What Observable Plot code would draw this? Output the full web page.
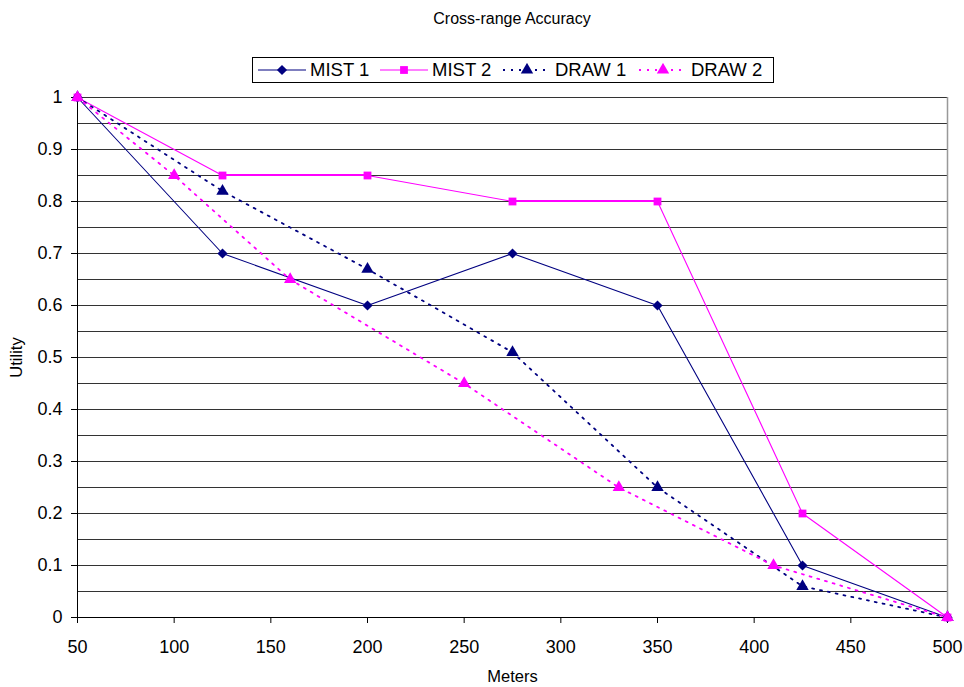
<!DOCTYPE html>
<html>
<head>
<meta charset="utf-8">
<script src="https://cdn.jsdelivr.net/npm/d3@7"></script>
<script src="https://cdn.jsdelivr.net/npm/@observablehq/plot@0.6"></script>
<style>
  html, body { margin: 0; padding: 0; background: #fff; }
  #wrap { position: relative; width: 964px; height: 687px; font-family: "Liberation Sans", Arial, sans-serif; }
  #chart { position: absolute; left: 0; top: 0; }
  #title { position: absolute; left: 0; width: 1024px; top: 10px; text-align: center; font-size: 16px; color: #000; }
  #legend { position: absolute; left: 252px; top: 57px; width: 522px; height: 26px; border: 1px solid #000; box-sizing: border-box;
            font-size: 18.5px; color: #000; background: #fff; }
  .item { position: absolute; top: 0; height: 24px; display: flex; align-items: center; }
  .item svg { margin-right: 4px; }
</style>
</head>
<body>
<div id="wrap">
  <div id="chart"></div>
  <div id="title">Cross-range Accuracy</div>
  <div id="legend"></div>
</div>
<script>
const seriesNames = ["MIST 1", "MIST 2", "DRAW 1", "DRAW 2"];
const mist1X = [50, 125, 200, 275, 350, 425, 500];
const mist1Y = [1, 0.7, 0.6, 0.7, 0.6, 0.1, 0];
const mist2X = [50, 125, 200, 275, 350, 425, 500];
const mist2Y = [1, 0.85, 0.85, 0.8, 0.8, 0.2, 0];
const draw1X = [50, 125, 200, 275, 350, 425, 500];
const draw1Y = [1, 0.82, 0.67, 0.51, 0.25, 0.06, 0];
const draw2X = [50, 100, 160, 250, 330, 410, 500];
const draw2Y = [1, 0.85, 0.65, 0.45, 0.25, 0.1, 0];
const xTicks = [50, 100, 150, 200, 250, 300, 350, 400, 450, 500];
const yTicks = [0, 0.1, 0.2, 0.3, 0.4, 0.5, 0.6, 0.7, 0.8, 0.9, 1];
const gridY = d3.range(1, 21).map(i => i / 20);

const styles = {
  "MIST 1": {color: "#000080", symbol: "diamond2", dash: null, r: 4.6},
  "MIST 2": {color: "#FF00FF", symbol: "square", dash: null, r: 4.4},
  "DRAW 1": {color: "#000080", symbol: "triangle", dash: "2,6", r: 4.6},
  "DRAW 2": {color: "#FF00FF", symbol: "triangle", dash: "2,6", r: 4.6}
};
const toRows = (name, xs, ys) => xs.map((x, i) => ({series: name, x, y: ys[i]}));
const data = {
  "MIST 1": toRows("MIST 1", mist1X, mist1Y),
  "MIST 2": toRows("MIST 2", mist2X, mist2Y),
  "DRAW 1": toRows("DRAW 1", draw1X, draw1Y),
  "DRAW 2": toRows("DRAW 2", draw2X, draw2Y)
};
// flat (horizontal) stretches of a series, which sit on a grid line
const flatSegs = name => data[name].slice(1)
  .map((d, i) => ({x1: data[name][i].x, x2: d.x, y: d.y, y0: data[name][i].y}))
  .filter(d => d.y === d.y0);

const marks = [
  Plot.ruleY(gridY, {stroke: "#333", strokeWidth: 1}),
  Plot.ruleX([500], {stroke: "#999", strokeWidth: 1.5}),
  Plot.ruleY([0], {stroke: "#000"}),
  Plot.ruleX([50], {stroke: "#000"}),
  Plot.axisX({ticks: xTicks, tickSize: 6, tickPadding: 17, fontSize: 18, label: "Meters", labelAnchor: "center", labelOffset: 64, labelArrow: "none"}),
  Plot.axisY({ticks: yTicks, tickSize: 6, tickPadding: 9, fontSize: 18, tickFormat: d => String(d), label: "Utility", labelAnchor: "center", labelOffset: 67, labelArrow: "none"})
];
for (const name of seriesNames) {
  const s = styles[name];
  const opts = {x: "x", y: "y", stroke: s.color, strokeWidth: s.dash ? 1.8 : 1.1};
  if (s.dash) opts.strokeDasharray = s.dash;
  marks.push(Plot.line(data[name], opts));
  const flat = flatSegs(name);
  if (flat.length) {
    marks.push(Plot.ruleY(flat, {x1: "x1", x2: "x2", y: "y", dy: -1, stroke: s.color, strokeWidth: 1.1}));
  }
}
for (const name of seriesNames) {
  const s = styles[name];
  marks.push(Plot.dot(data[name], {x: "x", y: "y", fill: s.color, stroke: "none", symbol: s.symbol, r: s.r}));
}

const chart = Plot.plot({
  width: 964,
  height: 687,
  marginTop: 97,
  marginBottom: 70,
  marginLeft: 77,
  marginRight: 17,
  x: {domain: [50, 500]},
  y: {domain: [0, 1]},
  style: {fontFamily: "'Liberation Sans', Arial, sans-serif", fontSize: "16px", color: "#000", background: "transparent"},
  marks
});
document.getElementById("chart").appendChild(chart);
chart.querySelectorAll('[aria-label="x-axis label"] text, [aria-label="y-axis label"] text').forEach(t => t.setAttribute("font-size", "16.5"));

// legend
const legendPos = {"MIST 1": 5, "MIST 2": 127, "DRAW 1": 250, "DRAW 2": 386};
const legend = d3.select("#legend");
for (const name of seriesNames) {
  const s = styles[name];
  const item = legend.append("div").attr("class", "item").style("left", legendPos[name] + "px");
  const svg = item.append("svg").attr("width", 48).attr("height", 14);
  svg.append("line").attr("x1", 0).attr("x2", 48).attr("y1", 7).attr("y2", 7)
    .attr("stroke", s.color).attr("stroke-width", s.dash ? 1.8 : 1.1)
    .attr("stroke-dasharray", s.dash);
  const sym = {diamond2: d3.symbolDiamond2, square: d3.symbolSquare, triangle: d3.symbolTriangle}[s.symbol];
  svg.append("path").attr("transform", "translate(24,7)")
    .attr("d", d3.symbol(sym, Math.PI * s.r * s.r)()).attr("fill", s.color);
  item.append("span").text(name);
}
</script>
</body>
</html>
